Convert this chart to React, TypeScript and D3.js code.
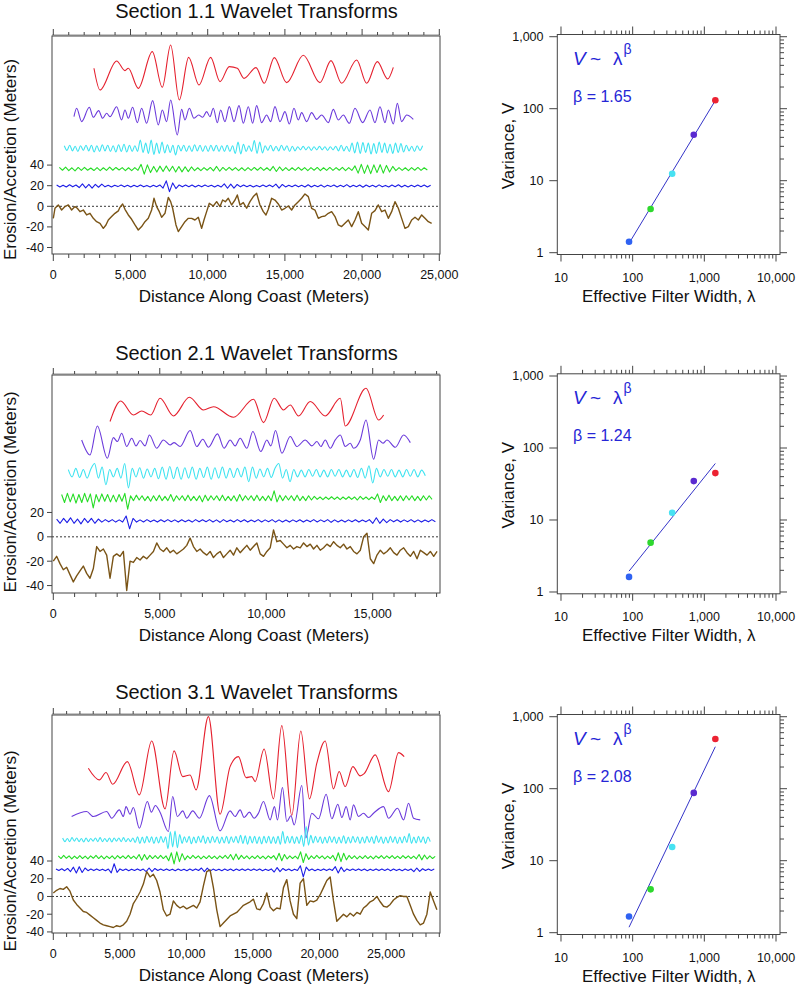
import React, { useEffect } from "react";
import * as d3 from "d3";

// ---------------- text ----------------
const SECTION_TITLES = [
  "Section 1.1 Wavelet Transforms",
  "Section 2.1 Wavelet Transforms",
  "Section 3.1 Wavelet Transforms",
];
const X_LABEL = "Distance Along Coast (Meters)";
const Y_LABEL = "Erosion/Accretion (Meters)";
const R_X_LABEL = "Effective Filter Width, λ";
const R_Y_LABEL = "Variance, V";
const BETA_LABELS = ["β = 1.65", "β = 1.24", "β = 2.08"];

// ---------------- variance vs filter width ----------------
const FILTER_WIDTHS = [89, 178, 356, 712, 1424];
const VARIANCE_S1 = [1.42, 4.05, 12.5, 43.5, 131];
const VARIANCE_S2 = [1.62, 4.85, 12.6, 34.7, 44.8];
const VARIANCE_S3 = [1.68, 4.0, 15.5, 87.5, 489];
const LOG_X_MAJOR = [10, 100, 1000, 10000];
const LOG_Y_MAJOR = [1, 10, 100, 1000];

// ---------------- axis ticks ----------------
const X_MAJOR_S1 = [0, 5000, 10000, 15000, 20000, 25000];
const X_MAJOR_S2 = [0, 5000, 10000, 15000];
const X_MAJOR_S3 = [0, 5000, 10000, 15000, 20000, 25000];
const Y_TICKS_S1 = [-40, -20, 0, 20, 40];
const Y_TICKS_S2 = [-40, -20, 0, 20];
const Y_TICKS_S3 = [-40, -20, 0, 20, 40];

// ---------------- Section 1.1 traces ----------------
// [distance (m), value] read at extrema
const S1_RED = [[2634,134.0],[3023,112.9],[4102,141.1],[4642,131.7],[4858,134.0],[5505,114.5],[6412,150.1],[7060,115.5],[7600,156.6],[8161,103.2],[8766,144.6],[9435,117.8],[10190,144.6],[10795,121.0],[11400,135.6],[11918,134.0],[12349,124.2],[13127,134.6],[13666,119.4],[14314,144.3],[15113,120.0],[16193,146.6],[17272,120.0],[17984,141.4],[18675,119.4],[19647,142.0],[20295,119.4],[20985,140.4],[21655,123.6],[22022,134.9]];
const S1_PURPLE = [[1339,87.0],[1511,95.1],[1835,82.2],[2332,96.1],[2591,86.4],[2936,92.9],[3195,85.4],[3454,90.3],[3670,87.0],[4102,96.7],[4426,83.8],[4642,93.5],[4858,85.4],[5138,96.1],[5441,81.2],[5721,95.1],[6045,80.6],[6434,102.6],[6801,79.0],[7060,93.5],[7341,82.2],[7600,103.2],[8031,69.2],[8312,94.1],[8528,83.8],[8809,95.1],[9111,85.4],[9413,88.6],[9672,86.4],[9931,91.9],[10147,87.0],[10363,95.1],[10622,81.2],[10838,93.5],[11119,82.2],[11400,96.7],[11702,82.2],[12026,97.7],[12306,80.6],[12630,96.7],[12911,80.6],[13170,97.7],[13494,81.2],[13818,88.6],[14077,82.2],[14357,96.7],[14681,82.2],[15005,91.9],[15286,79.9],[15588,95.1],[15869,83.8],[16085,90.9],[16408,82.2],[16732,90.9],[17056,84.4],[17380,88.6],[17812,81.2],[18136,94.1],[18459,83.8],[18783,88.6],[19172,80.6],[19539,95.1],[20036,81.2],[20511,93.5],[20834,81.2],[21158,96.7],[21482,81.2],[21698,93.5],[22022,79.9],[22281,99.9],[22561,82.2],[22885,88.6],[23317,84.4]];
// evenly spaced samples (deviation about the trace's offset)
const S1_CYAN = [2.5,-2,3,-2.5,2,-3,2.5,-2,3,-2.5,3,-3.5,2.5,-3,3.5,-2.5,3,-3,2.5,-3.5,3.5,-3,4,-3.5,3,-3,2.5,-3,8,-4,5,-5,8,-6,5,-5,6,-4.5,3.5,-4,3,-6.5,3,-2.5,3,-3,2.5,-3,3.5,-2.5,3,-3,2.5,-3,3,-2.5,3,-3,2.5,-3,3,-3,2.5,-5,6,-5.5,4,-3,2.5,-3,7.5,-5,6,-4.5,2.5,-2,3,-2.5,2,-2.5,3,-2,2.5,-3,2,-2.5,1.5,-1.5,2,-1.5,1.5,-2,1.5,-1.5,2,-1.5,1.5,-2,1.5,-1.5,2,-2.5,3,-2.5,2,-3,5,-4.5,6,-5,5.5,-4,5,-5.5,4.5,-5,6,-4,5,-4.5,4,-5,5,-4,4.5,-3.5,3,-2.5,2,-3,2.5,-2,2.5];
const S1_GREEN = [1.5,-1.2,1.8,-1.5,1.2,-1.8,1.5,-1.3,1.6,-1.2,1,-1.5,1.3,-1.6,1.2,-1.4,1.8,-1.2,1.5,-1,1.3,-1.6,1.2,-1.5,1.4,-1.3,4.5,-5,4,-3.5,2.5,-3,2.8,-2.5,3,-2.2,2.6,-3,2.4,-2.8,2.2,-2.5,2,-1.5,1.2,-1.6,1.4,-1.2,1.5,-1.8,2.5,-2.2,1.5,-1.3,1.6,-1.2,1.4,-1.5,1.2,-1.6,1.3,-1.4,1.5,-1.2,1.6,-1.4,1.2,-1.5,2.5,-2.4,2,-1.6,1.3,-1.5,1.2,-1.4,1.6,-1.2,1.4,-1.5,1.3,-1.2,1.5,-1.6,1.2,-1.4,1.5,-1.3,1.4,-1.2,1.6,-1.5,1.3,-1.4,3,-4,4.5,-4.2,3.8,-4.5,4,-3.5,4.2,-4,3.5,-3,2.5,-1.5,1.3,-1.4,1.2,-1.6,1.4,-1.2,1.5,-1.3,1.2,-1];
const S1_BLUE = [1,-1,0.8,-1,1.2,-0.8,1,-1.5,2,-1.8,1.5,-2,1.6,-1.2,1.8,-0.8,0.7,-0.9,0.8,-0.6,0.9,-0.8,0.7,-1,0.8,-0.7,1,-0.8,0.6,-0.9,0.8,-0.7,1,-2,5,-5.5,3,-2.5,1,-0.8,0.9,-0.7,1,-0.9,0.7,-0.8,1,-0.6,0.8,-0.9,0.7,-1,2,-2.2,1.8,-2,1.5,-0.8,0.9,-0.7,0.8,-1,0.6,-0.8,0.9,-0.7,1,-0.8,1.8,-2,1.5,-0.9,0.8,-0.7,1,-0.8,0.7,-0.9,1.2,-1,0.8,-0.7,0.9,-1.1,0.8,-0.6,1,-0.9,0.7,-0.8,1.3,-1,0.8,-0.7,0.9,-1.2,1,-0.8,0.7,-0.9,1.1,-0.8,0.6,-1,0.9,-0.7,1.2,-1,0.8,-0.9,0.7,-0.8,1,-0.7,0.9,-1,0.8];
const S1_BROWN = [[0,-11.7],[108,-1.9],[324,1.3],[540,-3.6],[756,-0.3],[972,1.3],[1187,-3.6],[1403,-0.3],[1554,-1.9],[1727,-5.2],[1943,-3.6],[2159,-8.4],[2375,-6.8],[2591,-11.7],[2807,-14.9],[3023,-16.5],[3239,-21.4],[3411,-18.1],[3562,-13.3],[3778,-10.0],[3994,-6.8],[4210,-4.5],[4318,-1.0],[4491,2.3],[4642,-2.9],[4858,-8.4],[5074,-12.6],[5290,-18.1],[5505,-23.0],[5721,-19.7],[5937,-14.9],[6153,-11.7],[6369,-3.6],[6520,7.8],[6693,-0.3],[6866,-5.2],[7017,-10.7],[7233,-6.8],[7449,8.7],[7600,4.5],[7729,-1.9],[7945,-18.1],[8096,-24.6],[8312,-19.7],[8528,-14.9],[8744,-11.7],[8960,-11.7],[9176,-13.3],[9392,-10.7],[9608,-21.4],[9759,-13.3],[9931,-5.2],[10104,2.9],[10363,0.3],[10579,4.5],[10795,-0.3],[10968,6.1],[11140,4.5],[11335,7.8],[11551,1.3],[11767,6.1],[11918,11.0],[12090,1.3],[12306,3.6],[12522,-1.9],[12738,4.5],[12954,9.4],[13170,12.6],[13386,1.3],[13602,-5.2],[13774,-8.4],[13926,-2.9],[14141,7.8],[14357,6.1],[14573,2.3],[14789,-3.6],[15005,-1.9],[15221,0.3],[15437,-3.6],[15653,1.3],[15869,4.5],[16085,7.8],[16300,12.0],[16516,9.4],[16732,-1.9],[16948,-3.6],[17164,-11.7],[17380,-10.0],[17596,-9.4],[17812,-6.8],[18028,-5.2],[18244,-10.0],[18459,-18.1],[18675,-19.7],[18891,-16.5],[19107,-13.3],[19323,-19.7],[19539,-13.3],[19755,-5.2],[19971,-16.5],[20187,-19.7],[20403,-23.0],[20619,-6.8],[20834,-4.2],[21050,1.3],[21266,-5.2],[21482,-3.6],[21698,-11.7],[21914,-5.2],[22130,4.5],[22346,-1.9],[22562,-11.7],[22778,-21.4],[22994,-19.7],[23210,-13.3],[23426,-10.7],[23642,-13.3],[23858,-8.4],[24073,-11.7],[24289,-14.9],[24505,-16.5]];

// ---------------- Section 2.1 traces ----------------
const S2_RED = [[2664,94.6],[3165,111.5],[3761,100.0],[4153,103.3],[4576,100.0],[5014,113.7],[5641,99.2],[6393,114.5],[7052,104.1],[7522,106.8],[8462,98.1],[9402,112.9],[9872,93.7],[10374,113.7],[10812,104.1],[11126,108.2],[11517,99.2],[12066,111.0],[12771,99.2],[13476,113.7],[13711,91.0],[14683,121.9],[15278,95.9],[15513,100.0]];
const S2_PURPLE = [[1332,79.5],[1724,67.2],[2068,91.0],[2539,64.5],[2821,81.4],[3009,78.2],[3212,85.0],[3447,74.1],[3682,80.9],[3886,74.6],[4074,79.0],[4309,74.6],[4513,83.6],[4858,72.7],[5171,79.5],[5485,75.4],[5673,77.3],[5955,74.1],[6425,87.2],[6738,74.1],[7020,80.1],[7287,73.5],[7710,84.5],[8023,72.7],[8305,79.5],[8540,74.6],[8775,80.9],[9089,72.7],[9371,86.4],[9747,70.0],[10029,79.5],[10217,74.6],[10436,87.2],[10734,68.6],[11126,82.3],[11439,74.1],[11831,79.5],[12144,74.6],[12379,78.2],[12567,74.1],[12771,79.5],[13006,72.7],[13241,79.5],[13476,83.6],[13711,74.1],[13946,76.8],[14103,72.7],[14416,79.5],[14683,95.9],[15043,63.7],[15278,79.5],[15482,76.8],[15670,79.5],[16062,73.5],[16454,83.6],[16767,77.3]];
const S2_CYAN = [3,-3,4,-3.5,3,-4,3.5,8,-4,5,-9.5,3,-3,4,-4,8,-12,4,-3,4.5,-4,3.5,-3,4,-4.5,5,-5,5.5,-4.5,5,-5,4.5,-4,5,-5,4,-3.5,5,-5,4.5,-4,5,-4,4,-3.5,4,-3,5,-7,5,-4,3.5,-3,4,-3.5,4,8,-4,3,-7,3,-3,2.5,-3,3,-2.5,3,-3,2.5,-3,3,-2.5,3,-3,2.5,-3,3,-3.5,4,-4,6,-8,4,-3,3,-2.5,3,-3,2.5,-3,3,-2.5,3,-3,2.5,-2];
const S2_GREEN = [3,-3.5,4,-3,3.5,-4,3,-3.5,4,-3,3.5,-8,3,-3,3.5,-2.5,3,-3,2.5,-3,3,-2.5,4,-9,2,-2,2.5,-1.5,2,-2,1.5,-2.5,2,-2,2.5,-2,1.5,-2,3,-2.5,2,-1.5,2,-2,2.5,-2,1.5,-2,2,-3,2.5,-2,2,-1.5,2,-2,2.5,-2,1.5,-2,2,-2.5,3,-2,2,-1.5,2,-2,2.5,-2,1.5,-2,2,-2,6,-3,2.5,-2,2,-1.5,2,-2,2.5,-2,1.5,-2,2,-1.5,1.5,-1,1,-1.2,1,-1,1.2,-1,1,-1.2,1,-1,1.2,-1,1,-1.5,1.5,-1,1,-1.2,1,-1,3.5,-3.5,2,-2,2.5,-2,1.5,-2,2,-2,2,-1.5,2,-2,1.5,-2,2,-1.5,2,-1];
const S2_BLUE = [1.5,-2,2,-1.5,2.5,-2,1.5,-2.5,2,-1.5,2,-2,1.5,-1,1,-0.8,1,-1,0.8,-1,4,-6.5,2,-1,0.8,-0.9,1,-0.8,0.7,-1,0.9,-0.8,1,-0.7,0.8,-1,0.9,-0.8,0.7,-1,1,-0.8,0.9,-0.7,1,-0.9,0.8,-1.2,1,-0.8,0.7,-0.9,1,-0.8,0.9,-1,0.7,-0.8,1,-0.9,0.8,-0.7,1,-1,0.8,-0.9,0.7,-1,0.8,-0.8,0.9,-1,0.7,-0.8,1,-0.9,0.8,-0.7,1,-1.2,0.8,-0.9,0.7,-1,0.8,-0.8,0.9,-1,0.7,-0.8,1,-2,2.5,-2,1.5,-1.5,1,-0.8,0.9,-1,0.8,-0.7,1,-0.9,0.8,-1,0.7,-0.8,1,-0.8];
const S2_BROWN = [-20,-16,-22,-27,-25,-31,-37,-32,-28,-24,-30,-34,-26,-8,-12,-10,-15,-34,-16,-14,-16,-12,-44,-20,-21,-17,-19,-16,-18,-15,-12,-5,-10,-12,-9,-13,-11,-14,-12,-10,-7,-1,-8,-12,-10,-13,-15,-12,-17,-14,-12,-17,-14,-11,-15,-9,-13,-10,-7,-11,-8,-5,-14,-16,-12,-9,5.7,-4,-3,-6,-9,-7,-10,-8,-9,-5,-8,-6,-10,-7,-11,-9,-6,-8,-4,-7,-9,-6,-10,-8,-12,-14,-11,0,3,-18,-22,-15,-11,-14,-12,-9,-13,-15,-11,-9,-13,-16,-12,-18,-11,-13,-15,-12,-16,-12];

// ---------------- Section 3.1 traces ----------------
const S3_RED = [[2631,144.6],[3458,131.5],[3959,139.8],[4461,126.6],[5563,152.1],[6465,114.6],[7393,175.4],[8395,98.8],[9072,164.2],[9723,135.2],[10275,137.1],[10726,120.2],[11653,202.9],[12530,92.8],[13282,146.5],[13908,157.8],[14485,134.1],[14911,135.2],[15161,129.6],[15838,166.4],[16540,110.1],[17166,192.7],[17918,91.3],[18595,186.7],[19246,110.1],[19797,150.3],[20424,175.4],[21050,121.4],[21476,140.9],[21928,124.0],[22504,146.5],[23055,136.0],[23356,138.5],[24183,159.7],[25185,118.3],[25937,162.3],[26363,157.8]];
const S3_PURPLE = [[1378,90.2],[2506,95.8],[3007,90.2],[4010,95.8],[4386,88.3],[4962,97.7],[5263,90.2],[5463,101.4],[5764,92.8],[6014,100.3],[6465,77.0],[7067,107.1],[7368,95.1],[7668,102.6],[8019,95.1],[8646,73.3],[8971,112.7],[9322,90.2],[9723,96.6],[10024,88.3],[10475,96.6],[10976,88.3],[11728,113.8],[12530,74.0],[13282,96.6],[13658,90.2],[14034,97.7],[14334,89.1],[14735,95.1],[15086,88.3],[15412,93.9],[15788,107.1],[16289,86.4],[16615,101.4],[16840,86.4],[17216,122.9],[17542,84.5],[17850,91.0],[18100,80.8],[18670,125.1],[18970,66.0],[19422,93.9],[19923,87.6],[20499,115.3],[20925,87.6],[21376,104.1],[21677,89.1],[22003,101.4],[22303,86.4],[22554,103.3],[22930,90.2],[23306,93.9],[23682,89.1],[24058,93.9],[24809,101.4],[25185,88.3],[25862,99.6],[26313,86.4],[26689,105.2],[27065,88.3],[27566,86.4]];
const S3_CYAN = [2,-2,1.5,-2,2.5,-1.5,2,-2,1.5,-2.5,2,-2,1.5,-1.5,2,-2,2.5,-2,1.5,-2,2,-2.5,2,-1.5,2,-2,2.5,-2,1.5,-2,2,-3,3.5,-4,3,-3.5,4,-3,3.5,-4,3,-3.5,4,-3,3.5,-10,9,-8,10,-9,6,-4,3.5,-3,4,-4.5,3,-3.5,4,-3,4.5,-4,3,-3.5,4,-3,3.5,-4,3,-3.5,4,-4,3.5,-3,4,-3.5,5,-4,4.5,-5,4,-3.5,4,-4,3.5,-4.5,4,-3.5,4,-4,3.5,-4,4,-5,9.5,-4,4,-3.5,4,-4,3.5,-4,5,-7.5,15,-6,5,-3.5,4,-3,3.5,-4,3,-3.5,4,-3,3.5,-4,3,-3.5,4.5,-4,3,-3.5,4,-3,3.5,-4,3,-3.5,4,-3,3.5,-4,4.5,-3,3.5,-4,3,-3.5,4,-3,3.5,-4,3,-3.5,4,-3,7,-4,3,-3.5,4,-3,3.5,-4,3,-2];
const S3_GREEN = [1.5,-1.5,2,-1.2,1.5,-2,1.2,-1.5,1.8,-1.5,1.2,-1.8,1.5,-1.2,2,-1.5,1.5,-1.8,1.2,-1.5,1.5,-2,1.8,-1.2,1.5,-1.5,2,-1.5,1.2,-1.8,3,-3.5,3,-2.5,2,-1.5,1.8,-1.5,2,-1.5,1.5,-4,5,-7.5,6,-5,4,-3,1.5,-1.5,2,-1.2,1.5,-1.8,1.2,-1.5,1.8,-1.5,1.2,-2,1.5,-1.2,2,-1.5,3,-3,3.5,-2.5,2,-1.5,1.5,-1.8,1.2,-1.5,1.8,-1.5,1.2,-1.8,1.5,-1.2,1.8,-3,4.5,-4,3,-2,1.5,-1.5,1.2,-1.8,6,-6,4,-2.5,1.5,-1.5,2,-1.2,1.5,-1.8,1.2,-1.5,2,-4,5,-5,4.5,-3,2,-1.5,1.5,-1.8,1.2,-1.5,1.8,-1.5,1.2,-1.8,1.5,-1.2,1.8,-1.5,1.5,-1.2,1.8,-1.5,1.2,-1.5,1.8,-1.2,1.5,-1.5,1.2,-1.8,3,-3,2.5,-2,1.5,-1.5,1];
const S3_BLUE = [1,-0.8,1.2,-1,1.5,-2,3,-3.5,3.5,-3,2,-1,0.8,-0.9,1,-0.8,0.7,-1,0.9,-3.5,6.8,-3,1,-0.8,0.9,-1,0.7,-0.8,1,-0.9,0.8,-2,2,-2,1.5,-0.8,0.9,-0.7,1,-0.8,0.7,-1,0.9,-0.8,0.7,-1,0.8,-0.9,1,-0.8,2,-2,1.8,-1.5,0.8,-0.9,0.7,-1,0.8,-0.7,0.9,-1,0.8,-0.7,1,-0.9,0.8,-0.7,1,-0.8,0.9,-1,0.7,-0.8,1,-2.5,2.5,-2,1.5,-0.8,0.9,-1,0.7,-0.8,4.5,-8,3,-0.9,0.8,-1,0.7,-0.8,1,-0.9,0.8,-0.7,3.5,-3.5,3,-2,1,-0.8,0.9,-0.7,1,-0.9,0.8,-1,0.7,-0.8,1,-0.9,0.8,-0.7,1,-1,0.8,-0.9,0.7,-1,0.8,-0.8,0.9,-2,2,-1.8,1.2,-0.8,0.9,-0.7,0.8];
const S3_BROWN = [4,7,9,8,11,6,-4,-9,-13,-17,-18,-21,-24,-27,-30,-32,-33,-34,-35,-33,-34,-32,-28,-20,-8,-2,5,14,28,22,25,18,5,-15,-22,-20,-5,-10,-13,-11,-14,-12,-10,-13,-6,12,28,30,10,-15,-34,-30,-26,-22,-20,-18,-14,-10,-8,-6,-3,-14,-15,-8,4,-12,-16,-13,-14,10,19,-5,-20,-25,15,20,-10,-5,-6,-4,2,10,18,22,-5,-28,-24,-20,-23,-19,-22,-18,-20,-13,-10,-6,-4,0,-6,-11,-12,-9,-4,-1,1,0,0,-10,-20,-27,-32,-30,-20,5,-5,-15];

// ---------------- styles ----------------
const FONT = "'Liberation Sans', Arial, Helvetica, sans-serif";
const C_RED = "#e5202e";
const C_PURPLE = "#6b3adb";
const C_CYAN = "#3fe3f0";
const C_GREEN = "#26dc26";
const C_BLUE = "#1d1de6";
const C_BROWN = "#7a5416";
const AXIS = "#444";
const NOTE_BLUE = "#2626d6";
const DOT_COLORS = ["#2f62f2", "#2ed82e", "#47e2f2", "#5a2ad0", "#ec2232"];

type Pt = [number, number];
type Trace = { pts: Pt[]; color: string; smooth: boolean; width: number };

function evenly(values: number[], x0: number, x1: number, offset: number): Pt[] {
  const step = (x1 - x0) / (values.length - 1);
  return values.map((v, i) => [x0 + i * step, offset + v] as Pt);
}

const LEFT_PANELS = [
  {
    title: SECTION_TITLES[0], top: 36, titleY: 18.3, yLabelCenter: 159.5,
    xDomain: [0, 25000], xPxMax: 439.3, minorMax: 25000, xMajor: X_MAJOR_S1,
    yDomain: [-46.3, 165.3], yTicks: Y_TICKS_S1,
    traces: [
      { pts: S1_RED as Pt[], color: C_RED, smooth: true, width: 1.1 },
      { pts: S1_PURPLE as Pt[], color: C_PURPLE, smooth: true, width: 1.1 },
      { pts: evenly(S1_CYAN, 712, 23920, 56.3), color: C_CYAN, smooth: true, width: 1.1 },
      { pts: evenly(S1_GREEN, 390, 24225, 36.2), color: C_GREEN, smooth: false, width: 1.1 },
      { pts: evenly(S1_BLUE, 216, 24440, 19.7), color: C_BLUE, smooth: false, width: 1.1 },
      { pts: S1_BROWN as Pt[], color: C_BROWN, smooth: false, width: 1.4 },
    ] as Trace[],
  },
  {
    title: SECTION_TITLES[1], top: 375, titleY: 360, yLabelCenter: 492,
    xDomain: [0, 18000], xPxMax: 436.6, minorMax: 18000, xMajor: X_MAJOR_S2,
    yDomain: [-46.1, 132.8], yTicks: Y_TICKS_S2,
    traces: [
      { pts: S2_RED as Pt[], color: C_RED, smooth: true, width: 1.1 },
      { pts: S2_PURPLE as Pt[], color: C_PURPLE, smooth: true, width: 1.1 },
      { pts: evenly(S2_CYAN, 705, 17470, 52.2), color: C_CYAN, smooth: true, width: 1.1 },
      { pts: evenly(S2_GREEN, 392, 17786, 31.7), color: C_GREEN, smooth: false, width: 1.1 },
      { pts: evenly(S2_BLUE, 157, 17942, 13.1), color: C_BLUE, smooth: false, width: 1.1 },
      { pts: evenly(S2_BROWN, 0, 18021, 0), color: C_BROWN, smooth: false, width: 1.4 },
    ] as Trace[],
  },
  {
    title: SECTION_TITLES[2], top: 715, titleY: 699, yLabelCenter: 851,
    xDomain: [0, 29000], xPxMax: 439.3, minorMax: 29000, xMajor: X_MAJOR_S3,
    yDomain: [-41.2, 204.7], yTicks: Y_TICKS_S3,
    traces: [
      { pts: S3_RED as Pt[], color: C_RED, smooth: true, width: 1.1 },
      { pts: S3_PURPLE as Pt[], color: C_PURPLE, smooth: true, width: 1.1 },
      { pts: evenly(S3_CYAN, 702, 28318, 63.9), color: C_CYAN, smooth: true, width: 1.1 },
      { pts: evenly(S3_GREEN, 376, 28694, 44.3), color: C_GREEN, smooth: false, width: 1.1 },
      { pts: evenly(S3_BLUE, 200, 28620, 30.1), color: C_BLUE, smooth: false, width: 1.1 },
      { pts: evenly(S3_BROWN, 0, 28819, 0), color: C_BROWN, smooth: false, width: 1.4 },
    ] as Trace[],
  },
];

const RIGHT_PANELS = [
  { top: 34.5, variance: VARIANCE_S1, beta: BETA_LABELS[0] },
  { top: 373.8, variance: VARIANCE_S2, beta: BETA_LABELS[1] },
  { top: 714.5, variance: VARIANCE_S3, beta: BETA_LABELS[2] },
];

const BOX_L = 52;
const BOX_R = 440;
const BOX_H = 218;

function WaveletPanel({ p, idx }: { p: (typeof LEFT_PANELS)[number]; idx: number }) {
  const top = p.top;
  const bottom = top + BOX_H;
  const x = d3.scaleLinear().domain([0, p.xDomain[1]]).range([53.3, p.xPxMax]);
  const y = d3.scaleLinear().domain(p.yDomain).range([bottom, top]);
  const minor = d3.range(0, p.minorMax + 1, 1000);
  const clipId = `clip-left-${idx}`;
  const smoothLine = d3.line<Pt>().x((d) => x(d[0])).y((d) => y(d[1])).curve(d3.curveMonotoneX);
  const rawLine = d3.line<Pt>().x((d) => x(d[0])).y((d) => y(d[1]));
  return (
    <g>
      <defs>
        <clipPath id={clipId}>
          <rect x={BOX_L} y={top} width={BOX_R - BOX_L} height={BOX_H} />
        </clipPath>
      </defs>
      <text x={256.5} y={p.titleY} textAnchor="middle" fontSize={20} fontFamily={FONT} fill="#111">
        {p.title}
      </text>
      <line x1={BOX_L} x2={BOX_R} y1={y(0)} y2={y(0)} stroke="#222" strokeWidth={0.9} strokeDasharray="2,2" />
      <g clipPath={`url(#${clipId})`}>
        {p.traces.map((t, i) => (
          <path
            key={i}
            d={(t.smooth ? smoothLine : rawLine)(t.pts) || ""}
            fill="none"
            stroke={t.color}
            strokeWidth={t.width}
            strokeLinejoin="round"
          />
        ))}
      </g>
      <rect x={BOX_L} y={top} width={BOX_R - BOX_L} height={BOX_H} fill="none" stroke={AXIS} strokeWidth={1} />
      {minor.map((m) => {
        const major = m % 5000 === 0;
        return (
          <g key={m}>
            <line x1={x(m)} x2={x(m)} y1={bottom} y2={bottom + (major ? 7 : 4)} stroke={AXIS} />
            <line x1={x(m)} x2={x(m)} y1={top - 1} y2={top - 1 - (major ? 6 : 3)} stroke={AXIS} />
          </g>
        );
      })}
      <line x1={BOX_L} x2={BOX_R} y1={top - 1} y2={top - 1} stroke={AXIS} strokeWidth={0.6} />
      {p.xMajor.map((m) => (
        <text key={m} x={x(m)} y={bottom + 24.5} textAnchor="middle" fontSize={12.5} fontFamily={FONT} fill="#111">
          {d3.format(",")(m)}
        </text>
      ))}
      {p.yTicks.map((v) => (
        <g key={v}>
          <line x1={BOX_L - 5} x2={BOX_L} y1={y(v)} y2={y(v)} stroke={AXIS} />
          <text x={44} y={y(v)} dy="0.35em" textAnchor="end" fontSize={12.5} fontFamily={FONT} fill="#111">
            {v}
          </text>
        </g>
      ))}
      <text x={254} y={bottom + 48.4} textAnchor="middle" fontSize={17} fontFamily={FONT} fill="#111">
        {X_LABEL}
      </text>
      <text
        transform={`translate(16,${p.yLabelCenter}) rotate(-90)`}
        textAnchor="middle"
        fontSize={17}
        fontFamily={FONT}
        fill="#111"
      >
        {Y_LABEL}
      </text>
    </g>
  );
}

const R_L = 557.3;
const R_R = 780;
const R_H = 220;

function VariancePanel({ p }: { p: (typeof RIGHT_PANELS)[number] }) {
  const top = p.top;
  const bottom = top + R_H;
  const x = d3.scaleLog().domain([8.88, 11370]).range([R_L, R_R]);
  const y = d3.scaleLog().domain([0.944, 1073]).range([bottom, top]);
  const xMinor: number[] = [];
  [10, 100, 1000].forEach((d) => d3.range(2, 10).forEach((k) => xMinor.push(d * k)));
  const yMinor: number[] = [];
  [1, 10, 100].forEach((d) => d3.range(2, 10).forEach((k) => yMinor.push(d * k)));

  // least-squares fit in log-log space
  const lx = FILTER_WIDTHS.map(Math.log10);
  const ly = p.variance.map(Math.log10);
  const mx = d3.mean(lx)!;
  const my = d3.mean(ly)!;
  const slope = d3.sum(lx, (v, i) => (v - mx) * (ly[i] - my)) / d3.sum(lx, (v) => (v - mx) ** 2);
  const fit = (w: number) => Math.pow(10, my + slope * (Math.log10(w) - mx));
  const w0 = FILTER_WIDTHS[0];
  const w1 = FILTER_WIDTHS[FILTER_WIDTHS.length - 1];
  const fmt = d3.format(",");

  return (
    <g>
      <rect x={R_L} y={top} width={R_R - R_L} height={R_H} fill="none" stroke={AXIS} strokeWidth={1} />
      {LOG_X_MAJOR.map((v) => (
        <g key={v}>
          <line x1={x(v)} x2={x(v)} y1={bottom} y2={bottom + 7} stroke={AXIS} />
          <line x1={x(v)} x2={x(v)} y1={top} y2={top - 8} stroke={AXIS} />
          <text x={x(v)} y={bottom + 27.5} textAnchor="middle" fontSize={12.5} fontFamily={FONT} fill="#111">
            {fmt(v)}
          </text>
        </g>
      ))}
      {xMinor.map((v) => (
        <g key={v}>
          <line x1={x(v)} x2={x(v)} y1={bottom} y2={bottom + 4} stroke={AXIS} />
          <line x1={x(v)} x2={x(v)} y1={top} y2={top - 4} stroke={AXIS} />
        </g>
      ))}
      {LOG_Y_MAJOR.map((v) => (
        <g key={v}>
          <line x1={R_L - 8} x2={R_L} y1={y(v)} y2={y(v)} stroke={AXIS} />
          <line x1={R_R} x2={R_R + 7} y1={y(v)} y2={y(v)} stroke={AXIS} />
          <text x={543.5} y={y(v)} dy="0.35em" textAnchor="end" fontSize={12.5} fontFamily={FONT} fill="#111">
            {fmt(v)}
          </text>
        </g>
      ))}
      {yMinor.map((v) => (
        <line key={v} x1={R_R} x2={R_R + 4} y1={y(v)} y2={y(v)} stroke={AXIS} />
      ))}
      <line x1={x(w0)} y1={y(fit(w0))} x2={x(w1)} y2={y(fit(w1))} stroke="#3434c8" strokeWidth={1} />
      {FILTER_WIDTHS.map((w, i) => (
        <circle key={w} cx={x(w)} cy={y(p.variance[i])} r={3.3} fill={DOT_COLORS[i]} />
      ))}
      <g fontFamily={FONT} fill={NOTE_BLUE}>
        <text x={573} y={top + 30.5} fontSize={19} fontStyle="italic">V</text>
        <text x={590} y={top + 30.5} fontSize={19}>~</text>
        <text x={613} y={top + 30.5} fontSize={19}>λ</text>
        <text x={623.5} y={top + 19} fontSize={14}>β</text>
        <text x={573} y={top + 67} fontSize={16}>{p.beta}</text>
      </g>
      <text x={668.7} y={bottom + 47} textAnchor="middle" fontSize={17} fontFamily={FONT} fill="#111">
        {R_X_LABEL}
      </text>
      <text
        transform={`translate(514,${top + R_H / 2 + 1.5}) rotate(-90)`}
        textAnchor="middle"
        fontSize={17}
        fontFamily={FONT}
        fill="#111"
      >
        {R_Y_LABEL}
      </text>
    </g>
  );
}

export default function App() {
  useEffect(() => {
    document.body.style.margin = "0";
  }, []);
  return (
    <svg
      width={800}
      height={987}
      viewBox="0 0 800 987"
      style={{ position: "absolute", left: 0, top: 0, background: "#fff" }}
    >
      <rect x={0} y={0} width={800} height={987} fill="#fff" />
      {LEFT_PANELS.map((p, i) => (
        <WaveletPanel key={i} p={p} idx={i} />
      ))}
      {RIGHT_PANELS.map((p, i) => (
        <VariancePanel key={i} p={p} />
      ))}
    </svg>
  );
}
